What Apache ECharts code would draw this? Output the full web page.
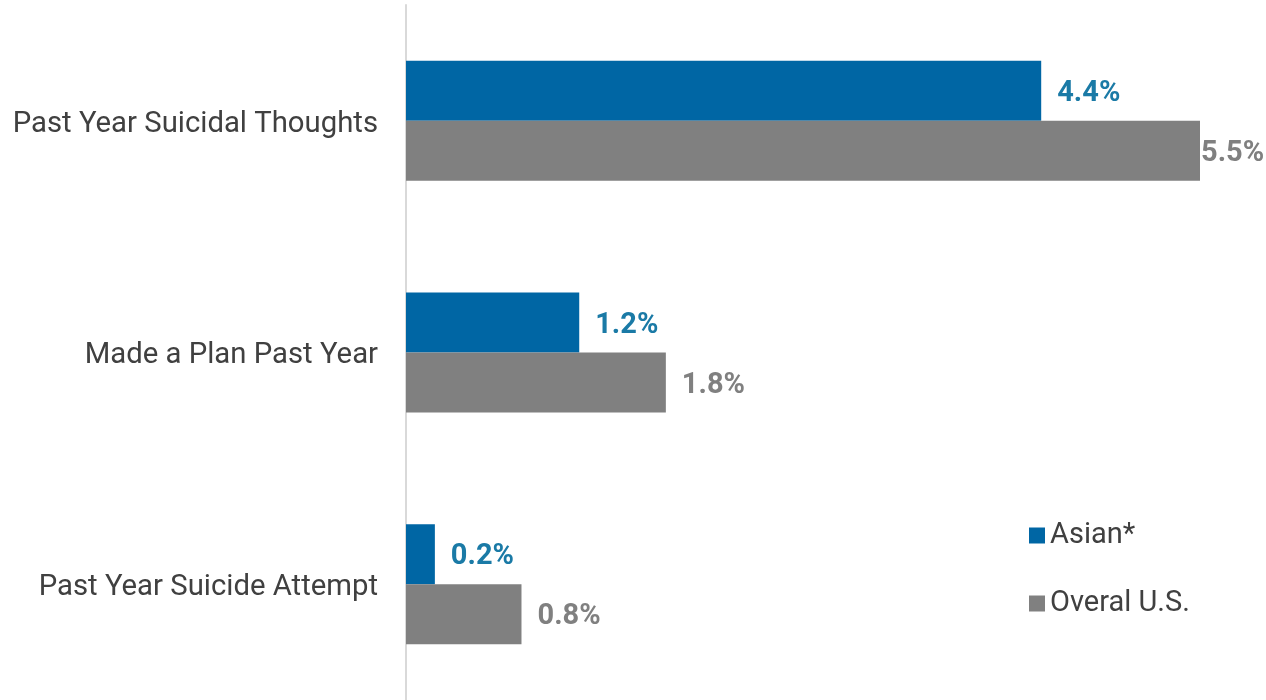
<!DOCTYPE html>
<html>
<head>
<meta charset="utf-8">
<script src="https://cdn.jsdelivr.net/npm/echarts@6/dist/echarts.min.js"></script>
<style>html,body{margin:0;padding:0;background:#fff;}#c{width:1266px;height:700px;}</style>
</head>
<body>
<div id="c"></div>
<script>
const categories = ['Past Year Suicidal Thoughts', 'Made a Plan Past Year', 'Past Year Suicide Attempt'];
const seriesNames = ['Asian*', 'Overal U.S.'];
const asianValues = [4.4, 1.2, 0.2];
const overallValues = [5.5, 1.8, 0.8];

const FONT = 'Roboto';
const chart = echarts.init(document.getElementById('c'));

function makeData(vals, tightIndex) {
  return vals.map((v, i) => i === tightIndex ? { value: v, label: { distance: 1 } } : v);
}

chart.setOption({
  animation: false,
  grid: { left: 406, top: 5, width: 794, height: 696, containLabel: false },
  xAxis: { type: 'value', min: 0, max: 5.5, show: false },
  yAxis: {
    type: 'category', data: categories, inverse: true,
    axisLine: { show: true, lineStyle: { color: '#d9d9d9', width: 2 } },
    axisTick: { show: false },
    axisLabel: {
      margin: 28,
      formatter: v => '{c|' + v + '}',
      rich: { c: { fontFamily: FONT, fontSize: 29.3, color: '#404040', lineHeight: 34, padding: [7, 0, 0, 0] } }
    }
  },
  legend: {
    orient: 'vertical', left: 1024, top: 516,
    itemWidth: 16, itemHeight: 16, itemGap: 39,
    icon: 'rect',
    textStyle: { fontFamily: FONT, fontSize: 29, color: '#404040', lineHeight: 29 },
    data: seriesNames
  },
  series: [
    {
      name: seriesNames[0], type: 'bar', data: makeData(asianValues, -1),
      barWidth: 60, barGap: '0%',
      itemStyle: { color: '#0066a4' },
      label: { show: true, position: 'right', distance: 16, offset: [0, 3], formatter: p => p.value.toFixed(1) + '%',
        fontFamily: FONT, fontSize: 29, fontWeight: 'bold', color: '#1a7aa6' }
    },
    {
      name: seriesNames[1], type: 'bar', data: makeData(overallValues, 0),
      barWidth: 60, barGap: '0%',
      itemStyle: { color: '#808080' },
      label: { show: true, position: 'right', distance: 16, offset: [0, 3], formatter: p => p.value.toFixed(1) + '%',
        fontFamily: FONT, fontSize: 29, fontWeight: 'bold', color: '#808080' }
    }
  ]
});
</script>
</body>
</html>
